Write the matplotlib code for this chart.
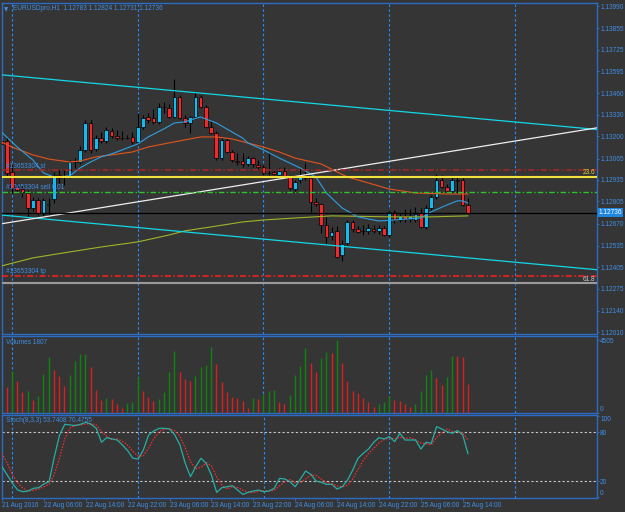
import numpy as np
import matplotlib.pyplot as plt
from matplotlib import font_manager
from matplotlib.transforms import blended_transform_factory

# MT4 uses a narrow small font; take the narrow Liberation face when it is there
names = {f.name for f in font_manager.fontManager.ttflist}
if 'Liberation Sans Narrow' in names:
    plt.rcParams['font.family'] = ['Liberation Sans Narrow', 'DejaVu Sans']
    fs = 5.4
else:
    plt.rcParams['font.family'] = ['Liberation Sans', 'DejaVu Sans']
    fs = 4.7

# EURUSDpro H1, one bar per hour from 21 Aug 22:00 to 25 Aug 15:00
opens = [1.13172, 1.13172, 1.12984, 1.12893, 1.12880, 1.12856, 1.12765, 1.12814, 1.12735, 1.12783,
         1.12820, 1.12965, 1.12953, 1.12959, 1.13044, 1.13044, 1.13117, 1.13281, 1.13123, 1.13190,
         1.13172, 1.13232, 1.13202, 1.13190, 1.13190, 1.13196, 1.13166, 1.13257, 1.13317, 1.13311,
         1.13287, 1.13378, 1.13372, 1.13317, 1.13439, 1.13311, 1.13281, 1.13317, 1.13439, 1.13378,
         1.13257, 1.13220, 1.13068, 1.13178, 1.13105, 1.13050, 1.13050, 1.13032, 1.13068, 1.13026,
         1.13014, 1.12978, 1.12984, 1.12965, 1.12990, 1.12953, 1.12880, 1.12935, 1.12965, 1.12947,
         1.12801, 1.12789, 1.12662, 1.12595, 1.12626, 1.12480, 1.12553, 1.12680, 1.12638, 1.12626,
         1.12626, 1.12638, 1.12626, 1.12644, 1.12601, 1.12741, 1.12692, 1.12717, 1.12698, 1.12692,
         1.12735, 1.12650, 1.12765, 1.12832, 1.12935, 1.12893, 1.12868, 1.12935, 1.12935, 1.12783]
highs = [1.13190, 1.13196, 1.13026, 1.12917, 1.12899, 1.12874, 1.12832, 1.12826, 1.12826, 1.12826,
         1.12984, 1.12996, 1.12996, 1.13056, 1.13068, 1.13141, 1.13299, 1.13299, 1.13208, 1.13226,
         1.13257, 1.13251, 1.13238, 1.13232, 1.13208, 1.13226, 1.13342, 1.13330, 1.13342, 1.13366,
         1.13402, 1.13408, 1.13396, 1.13548, 1.13451, 1.13330, 1.13324, 1.13469, 1.13451, 1.13390,
         1.13293, 1.13232, 1.13190, 1.13190, 1.13117, 1.13099, 1.13099, 1.13081, 1.13075, 1.13056,
         1.13026, 1.13105, 1.12996, 1.13008, 1.13014, 1.12965, 1.12935, 1.13008, 1.13038, 1.12959,
         1.12826, 1.12795, 1.12711, 1.12650, 1.12656, 1.12571, 1.12692, 1.12692, 1.12656, 1.12662,
         1.12668, 1.12662, 1.12662, 1.12656, 1.12753, 1.12753, 1.12729, 1.12759, 1.12759, 1.12771,
         1.12765, 1.12783, 1.12844, 1.12971, 1.12965, 1.12911, 1.12953, 1.12959, 1.12953, 1.12824]
lows = [1.13141, 1.12959, 1.12856, 1.12856, 1.12832, 1.12711, 1.12747, 1.12723, 1.12717, 1.12723,
        1.12795, 1.12917, 1.12905, 1.12947, 1.13008, 1.13032, 1.13105, 1.13099, 1.13111, 1.13160,
        1.13160, 1.13190, 1.13178, 1.13178, 1.13184, 1.13153, 1.13153, 1.13245, 1.13281, 1.13275,
        1.13275, 1.13342, 1.13311, 1.13311, 1.13305, 1.13257, 1.13220, 1.13305, 1.13372, 1.13251,
        1.13214, 1.13056, 1.13056, 1.13099, 1.13044, 1.13026, 1.13014, 1.13020, 1.13014, 1.12996,
        1.12965, 1.12965, 1.12965, 1.12953, 1.12947, 1.12874, 1.12862, 1.12917, 1.12935, 1.12741,
        1.12777, 1.12613, 1.12553, 1.12571, 1.12462, 1.12444, 1.12541, 1.12620, 1.12613, 1.12601,
        1.12607, 1.12613, 1.12607, 1.12595, 1.12589, 1.12674, 1.12680, 1.12680, 1.12680, 1.12680,
        1.12644, 1.12638, 1.12753, 1.12820, 1.12886, 1.12856, 1.12856, 1.12856, 1.12777, 1.12731]
closes = [1.13153, 1.12978, 1.12886, 1.12874, 1.12862, 1.12765, 1.12814, 1.12735, 1.12814, 1.12789,
          1.12965, 1.12947, 1.12959, 1.13044, 1.13050, 1.13117, 1.13281, 1.13117, 1.13190, 1.13172,
          1.13238, 1.13202, 1.13190, 1.13188, 1.13190, 1.13166, 1.13257, 1.13311, 1.13299, 1.13287,
          1.13378, 1.13380, 1.13317, 1.13439, 1.13311, 1.13281, 1.13317, 1.13439, 1.13378, 1.13257,
          1.13220, 1.13068, 1.13178, 1.13105, 1.13056, 1.13044, 1.13032, 1.13068, 1.13032, 1.13014,
          1.12978, 1.12976, 1.12971, 1.12990, 1.12959, 1.12886, 1.12923, 1.12965, 1.12947, 1.12801,
          1.12789, 1.12662, 1.12589, 1.12620, 1.12468, 1.12547, 1.12680, 1.12638, 1.12620, 1.12624,
          1.12644, 1.12626, 1.12644, 1.12601, 1.12741, 1.12692, 1.12717, 1.12698, 1.12717, 1.12729,
          1.12650, 1.12765, 1.12832, 1.12935, 1.12893, 1.12868, 1.12935, 1.12929, 1.12783, 1.12736]
volumes = [1769, 1625, 2592, 1975, 1275, 1358, 802, 1049, 2386, 3476,
           2654, 2304, 1666, 2345, 3209, 3641, 3660, 2818, 1419, 802,
           905, 880, 535, 288, 597, 699, 2242, 1358, 967, 741,
           864, 1316, 2551, 3847, 2510, 2098, 1975, 2304, 2818, 2962,
           4093, 3044, 1934, 1316, 1008, 905, 761, 329, 905, 880,
           1152, 1358, 1400, 658, 535, 1111, 2345, 2900, 4032, 3065,
           2510, 3415, 3744, 3700, 4505, 3106, 1975, 1358, 1214, 905,
           699, 391, 555, 699, 1049, 802, 760, 555, 391, 555,
           1378, 2345, 2633, 2180, 1728, 2201, 3538, 3517, 3435, 1807]
stoch_main = [37.7, 27.4, 17.1, 8.9, 6.8, 7.7, 11, 11.8, 16.3, 19.2,
              50, 76.7, 89.9, 89, 88.2, 89.9, 92.3, 89.9, 84.9, 67.7,
              73.4, 71.8, 70.5, 64.4, 57.4, 48, 47.1, 58.2, 76.7, 81.6,
              84.9, 84.9, 84.1, 76.7, 64.4, 41.8, 25.3, 37.7, 48, 41.8,
              27.4, 6, 11.8, 13, 14.2, 8.9, 3.6, 6, 7.7, 8.9,
              6.8, 7.7, 11, 23.3, 22.5, 19.2, 13, 22.5, 32.3, 28.2,
              20, 18.3, 15.9, 15.9, 10.1, 13, 21.2, 33.6, 48, 54.1,
              59.4, 67.7, 73.4, 71.8, 74.7, 68.5, 78.8, 70.5, 70.5, 70.5,
              59.4, 67.7, 66.4, 87, 84.1, 80.8, 78.8, 82.1, 76.7, 53.74]
stoch_signal = [54, 42, 27.4, 17.8, 10.9, 7.8, 8.5, 10.2, 13.0, 15.8,
                28.5, 48.6, 72.2, 85.2, 89.0, 89.0, 90.1, 90.7, 89.0, 80.8,
                75.3, 71.0, 71.9, 68.9, 64.1, 56.6, 50.8, 51.1, 60.7, 72.2,
                81.1, 83.8, 84.6, 81.9, 75.1, 61.0, 43.8, 34.9, 37.0, 42.5,
                39.1, 25.1, 15.1, 10.3, 13.0, 12.0, 8.9, 6.2, 5.8, 7.5,
                7.8, 7.8, 8.5, 14.0, 18.9, 21.7, 18.2, 18.2, 22.6, 27.7,
                26.8, 22.2, 18.1, 16.7, 14.0, 13.0, 14.8, 22.6, 34.3, 45.2,
                53.8, 60.4, 66.8, 71.0, 73.3, 71.7, 74.0, 72.6, 73.3, 70.5,
                66.8, 65.9, 64.5, 73.7, 79.2, 84.0, 81.2, 80.6, 79.2, 70.48]

# moving averages at some bars
fast_ma_bars = [0, 3, 6, 8, 10, 13, 15, 17, 19, 21, 24, 26, 28, 31, 33, 35, 36, 38, 39, 41,
                44, 46, 47, 50, 53, 57, 60, 62, 65, 68, 72, 75, 80, 82, 85, 87, 88, 89]
fast_ma = [1.13226, 1.13135, 1.13056, 1.12978, 1.12953, 1.12959, 1.13008, 1.13044, 1.13075, 1.13093,
           1.13129, 1.13153, 1.13196, 1.13245, 1.13281, 1.13287, 1.13299, 1.13317, 1.13305, 1.13281,
           1.13226, 1.13190, 1.13160, 1.13117, 1.13068, 1.13008, 1.12953, 1.12856, 1.12765, 1.12711,
           1.12686, 1.12692, 1.12704, 1.12741, 1.12783, 1.12808, 1.12808, 1.12795]
mid_ma_bars = [0, 2, 6, 9, 13, 15, 18, 21, 25, 28, 32, 35, 38, 41, 44, 50, 53, 56, 61, 66, 70, 74, 79, 85, 89]
mid_ma = [1.13166, 1.13135, 1.13087, 1.13062, 1.13044, 1.13050, 1.13075, 1.13087, 1.13105, 1.13135,
          1.13160, 1.13178, 1.13196, 1.13196, 1.13184, 1.13135, 1.13105, 1.13068, 1.13032, 1.12953,
          1.12917, 1.12880, 1.12856, 1.12850, 1.12850]
slow_ma_bars = [0, 6, 13, 19, 26, 32, 35, 40, 46, 50, 56, 63, 74, 82, 89]
slow_ma = [1.12413, 1.12462, 1.12498, 1.12528, 1.12559, 1.12601, 1.12626, 1.12650, 1.12680, 1.12692,
           1.12704, 1.12717, 1.12711, 1.12711, 1.12717]

# drawn objects
channel_upper = [(0, 1.13573), (113, 1.13243)]
channel_lower = [(0, 1.12722), (113, 1.12392)]
white_trend = [(0, 1.12669), (113, 1.13248)]
sl_price = 1.12993
fib_236 = 1.12955
sell_price = 1.12862
bid = 1.12736
tp_price = 1.12352
fib_618 = 1.12307

price_ticks = [1.13990, 1.13855, 1.13725, 1.13595, 1.13460, 1.13330, 1.13200, 1.13065,
               1.12935, 1.12805, 1.12670, 1.12535, 1.12405, 1.12275, 1.12140, 1.12010]
label_bars = [0, 8, 16, 24, 32, 40, 48, 56, 64, 72, 80, 88]
time_labels = ['21 Aug 2016', '22 Aug 06:00', '22 Aug 14:00', '22 Aug 22:00', '23 Aug 06:00',
               '23 Aug 14:00', '23 Aug 22:00', '24 Aug 06:00', '24 Aug 14:00', '24 Aug 22:00',
               '25 Aug 06:00', '25 Aug 14:00']
day_breaks = [2, 26, 50, 74, 98]

bg = '#353535'
frame = '#2b6cc4'
txt = '#3f8fe6'
sep = '#1e90ff'

W, H = 625, 512
fig = plt.figure(figsize=(W / 100, H / 100), dpi=100, facecolor=bg)


def panel(x0, y0, x1, y1):
    ax = fig.add_axes([x0 / W, 1 - y1 / H, (x1 - x0) / W, (y1 - y0) / H])
    ax.set_facecolor(bg)
    for s in ax.spines.values():
        s.set_color(frame)
        s.set_linewidth(1)
    ax.set_xlim(0.1, 113.65)
    ax.yaxis.tick_right()
    ax.tick_params(axis='y', direction='out', length=1.5, width=0.7, pad=0.7,
                   colors=frame, labelcolor=txt, labelsize=fs)
    ax.tick_params(axis='x', bottom=False, labelbottom=False)
    for b in day_breaks:
        ax.axvline(b, color=sep, lw=0.8, dashes=(2.2, 2.2), zorder=1)
    return ax


# ---- price panel ----
ax = panel(2, 3, 597, 334)
ax.set_ylim(1.12000, 1.14009)
idx = np.arange(len(opens))
o = np.array(opens)
c = np.array(closes)
up = c >= o
ax.vlines(idx, lows, highs, color='black', lw=0.8, zorder=2)
ax.bar(idx, np.abs(c - o), bottom=np.minimum(o, c), width=0.7,
       color=np.where(up, '#19b9ee', '#f02a2a'), edgecolor='black', linewidth=0.5, zorder=3)

ax.plot(slow_ma_bars, slow_ma, color='#9fb528', lw=0.8, zorder=4)
ax.plot(mid_ma_bars, mid_ma, color='#e4541c', lw=0.8, zorder=4)
ax.plot(fast_ma_bars, fast_ma, color='#2f9fe0', lw=0.8, zorder=4)

ax.axline(*channel_upper, color='#12d8e8', lw=0.9, zorder=5)
ax.axline(*channel_lower, color='#12d8e8', lw=0.9, zorder=5)
ax.axline(*white_trend, color='#eeeeee', lw=0.9, zorder=5)

ax.axhline(sl_price, color='#a82626', lw=1.1, dashes=(4, 1.6, 1, 1.6), zorder=5)
ax.axhline(fib_236, color='#f2e23a', lw=1.5, zorder=5)
ax.axhline(sell_price, color='#2ec22e', lw=1.0, dashes=(4, 1.6, 1, 1.6), zorder=5)
ax.axhline(bid, color='black', lw=0.9, zorder=5)
ax.axhline(tp_price, color='#ff2020', lw=1.1, dashes=(4, 1.6, 1, 1.6), zorder=5)
ax.axhline(fib_618, color='#9a9a9a', lw=1.5, zorder=5)

tr = blended_transform_factory(ax.transAxes, ax.transData)
ax.text(0.007, sl_price + 0.00004, '#13653304 sl', transform=tr, color=txt, fontsize=fs, va='bottom', zorder=6)
ax.text(0.007, sell_price + 0.00004, '#13653304 sell 0.01', transform=tr, color=txt, fontsize=fs, va='bottom', zorder=6)
ax.text(0.007, tp_price + 0.00004, '#13653304 tp', transform=tr, color=txt, fontsize=fs, va='bottom', zorder=6)
ax.text(0.997, fib_236 + 0.00004, '23.6', transform=tr, color='#e6d23c', fontsize=fs, ha='right', va='bottom', zorder=6)
ax.text(0.997, fib_618 + 0.00004, '61.8', transform=tr, color='#c8c8c8', fontsize=fs, ha='right', va='bottom', zorder=6)

ax.set_yticks(price_ticks)
ax.set_yticklabels(['%.5f' % p for p in price_ticks])
ax.text(1.003, bid, '%.5f' % bid, transform=tr, color='white', fontsize=fs, ha='left', va='center',
        bbox=dict(boxstyle='square,pad=0.15', fc='#1f86e0', ec='none'), zorder=7, clip_on=False)

ax.text(0.003, 0.988, '\u25bc', transform=ax.transAxes, color=txt, fontsize=4, va='top',
        family=['DejaVu Sans'])
ax.text(0.018, 0.993, 'EURUSDpro,H1  %.5f %.5f %.5f %.5f' % (opens[-1], highs[-1], lows[-1], closes[-1]),
        transform=ax.transAxes, color=txt, fontsize=fs, va='top')

# ---- volume panel ----
av = panel(2, 336, 597, 413)
av.set_ylim(0, 4752)
vol = np.array(volumes)
vcol = ['#0e840e' if i > 0 and vol[i] > vol[i - 1] else '#dc1e1e' for i in range(len(vol))]
vcol[0] = '#0e840e'
av.vlines(idx, 0, vol, colors=vcol, lw=1.0, zorder=3)
av.set_yticks([0, max(volumes)])
av.set_yticklabels(['0', str(max(volumes))])
av.get_yticklabels()[0].set_va('bottom')
av.text(0.006, 0.96, 'Volumes %d' % volumes[-1], transform=av.transAxes, color=txt, fontsize=fs, va='top')

# ---- stochastic panel ----
st = panel(2, 415, 597, 498)
st.set_ylim(-0.9, 101.3)
for lv in (80, 20):
    st.axhline(lv, color='#c8c8c8', lw=0.8, dashes=(2, 2), zorder=2)
st.plot(idx, stoch_signal, color='#ff2a2a', lw=0.9, ls=(0, (1.2, 1.2)), zorder=3)
st.plot(idx, stoch_main, color='#26aea6', lw=0.9, zorder=4)
st.set_yticks([0, 20, 80, 100])
st.set_yticklabels(['0', '20', '80', '100'])
st.get_yticklabels()[0].set_va('bottom')
st.get_yticklabels()[3].set_va('top')
st.text(0.006, 0.97, 'Stoch(8,3,3) %.4f %.4f' % (53.7408, 70.4755), transform=st.transAxes,
        color=txt, fontsize=fs, va='top')
st.set_xticks(label_bars)
st.set_xticklabels(time_labels, ha='left')
st.tick_params(axis='x', bottom=True, labelbottom=True, direction='out', length=2, width=0.7,
               pad=0.6, colors=frame, labelcolor=txt, labelsize=fs)

fig.savefig('out.png', dpi=100, facecolor=bg)
